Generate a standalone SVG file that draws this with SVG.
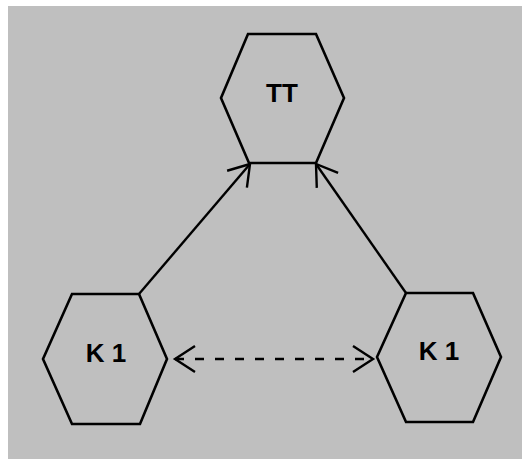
<svg xmlns="http://www.w3.org/2000/svg" width="522" height="459" viewBox="0 0 522 459">
<defs>
<style>
.hex{fill:none;stroke:#000;stroke-width:2.6;stroke-linejoin:miter}
.lbl{font-family:"Liberation Sans",Arial,sans-serif;font-weight:bold;font-size:26px;fill:#000;text-anchor:middle}
.edge{fill:none;stroke:#000;stroke-width:2.4}
.dash{stroke-dasharray:9 11}
</style>
<marker id="arr" markerUnits="userSpaceOnUse" markerWidth="40" markerHeight="40" viewBox="-30 -20 40 40" refX="0" refY="0" orient="auto-start-reverse">
<path d="M-20,-13 L0,0 L-20,13" fill="none" stroke="#000" stroke-width="2.4"/>
</marker>
</defs>
<rect x="0" y="0" width="522" height="459" fill="#fff"/>
<rect x="8" y="6" width="514" height="453" fill="#bfbfbf"/>
<g id="node-tt">
<polygon class="hex" points="248,34 316,34 344,98 316,163 249,163 221,98"/>
<text class="lbl" x="282" y="102">TT</text>
</g>
<g id="node-k1-left">
<polygon class="hex" points="72,294 139,294 167,359 140,424 72,424 43,359"/>
<text class="lbl" x="106" y="362">K 1</text>
</g>
<g id="node-k1-right">
<polygon class="hex" points="406,293 473,293 501,357 473,422 406,422 377,357"/>
<text class="lbl" x="439" y="360">K 1</text>
</g>
<g id="connectors">
<line class="edge" x1="139" y1="294" x2="250" y2="164" marker-end="url(#arr)"/>
<line class="edge" x1="406" y1="293" x2="316" y2="164" marker-end="url(#arr)"/>
<line class="edge dash" x1="175" y1="359" x2="373" y2="359" marker-start="url(#arr)" marker-end="url(#arr)"/>
</g>
</svg>
